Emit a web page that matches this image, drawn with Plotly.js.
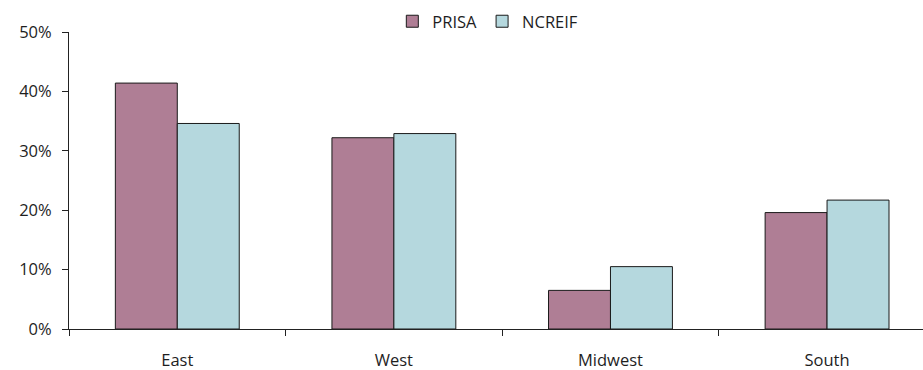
<!DOCTYPE html>
<html>
<head>
<meta charset="utf-8">
<script src="https://cdn.plot.ly/plotly-3.0.1.min.js"></script>
<style>html,body{margin:0;padding:0;background:#fff;overflow:hidden}</style>
</head>
<body>
<div id="chart" style="width:923px;height:370px"></div>
<script>
const categories = ["East", "West", "Midwest", "South"];
const prisa = [41.4, 32.2, 6.5, 19.6];
const ncreif = [34.6, 32.9, 10.5, 21.7];
const yTicks = [0, 10, 20, 30, 40, 50];
const yTickLabels = ["0%", "10%", "20%", "30%", "40%", "50%"];

const fontFam = "'Open Sans', Lato, sans-serif";
const traces = [
  {type: "bar", name: "PRISA", x: categories, y: prisa,
   marker: {color: "#AF7E95", line: {color: "#1a1a1a", width: 1}}},
  {type: "bar", name: "NCREIF", x: categories, y: ncreif,
   marker: {color: "#B5D8DE", line: {color: "#1a1a1a", width: 1}}}
];
const layout = {
  width: 923, height: 370,
  margin: {l: 68.5, r: 0, t: 31.5, b: 41, pad: 0},
  paper_bgcolor: "#fff", plot_bgcolor: "#fff",
  font: {family: fontFam, size: 16.5, color: "#1e1e1e"},
  barmode: "group", bargap: 0.428, bargroupgap: 0,
  showlegend: true,
  legend: {orientation: "h", x: 0.3786, xref: "paper", xanchor: "left",
           yref: "paper", yanchor: "middle",
           font: {size: 16.5}, itemwidth: 30, traceorder: "normal"},
  xaxis: {range: [-0.5, 3.443], showline: true, linecolor: "#222", linewidth: 1,
          ticks: "outside", tickson: "boundaries", ticklen: 6, tickcolor: "#222",
          showgrid: false, zeroline: false, ticklabelstandoff: 16},
  yaxis: {range: [0, 50], tickvals: yTicks, ticktext: yTickLabels,
          showline: true, linecolor: "#222", linewidth: 1,
          ticks: "outside", ticklen: 6, tickcolor: "#222",
          showgrid: false, zeroline: false, ticklabelstandoff: 7}
};
layout.legend.y = 1 + (31.5 - 21) / 297.5;
Plotly.newPlot("chart", traces, layout, {staticPlot: true});
</script>
</body>
</html>
